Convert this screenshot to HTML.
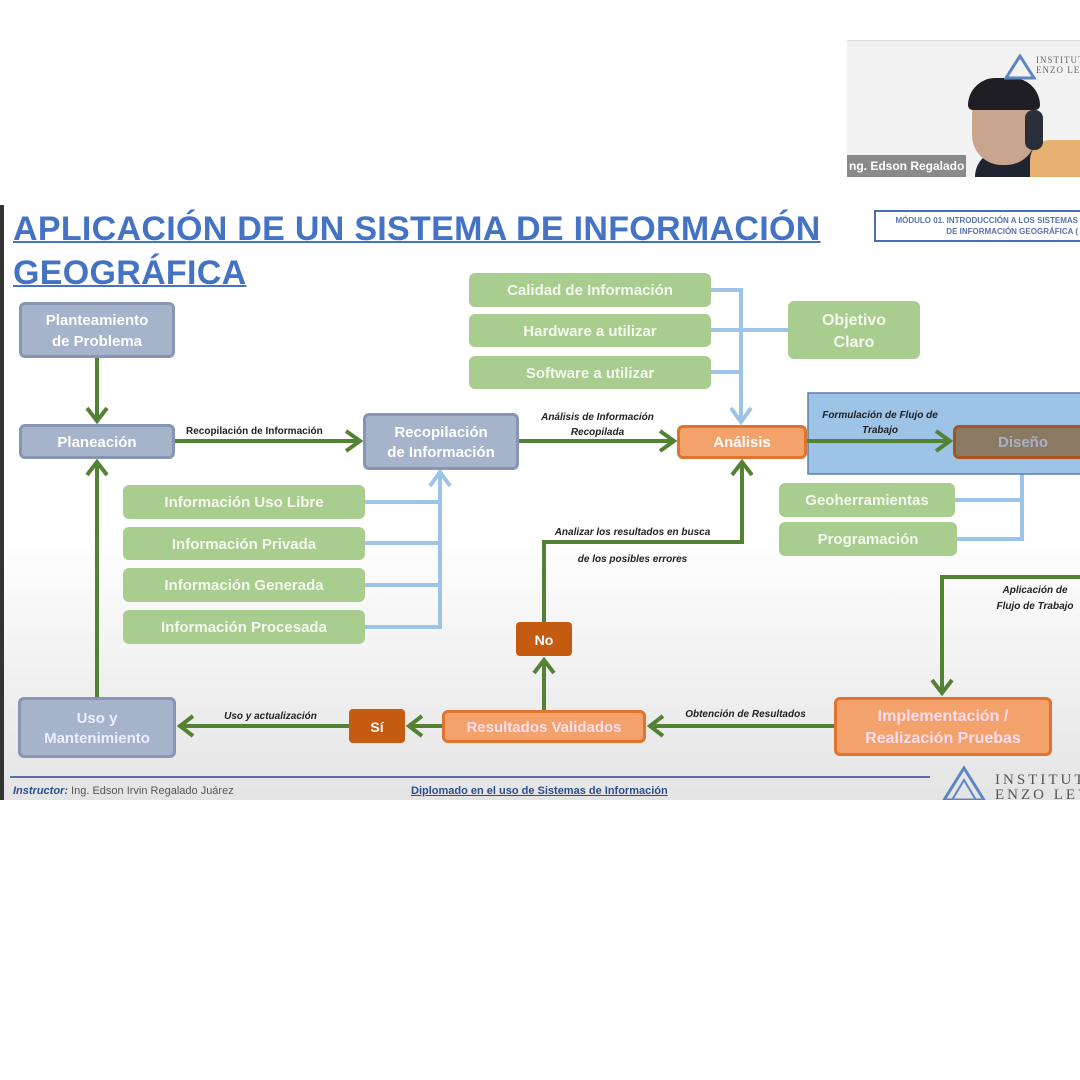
<!DOCTYPE html>
<html><head><meta charset="utf-8"><style>
*{margin:0;padding:0;box-sizing:border-box}
body{width:1080px;height:1080px;background:#fff;position:relative;overflow:hidden;font-family:"Liberation Sans",sans-serif}
.slide{position:absolute;left:0;top:205px;width:1080px;height:595px;background:linear-gradient(#fff 0%,#fff 55%,#e4e4e4 100%)}
.b{position:absolute;display:flex;align-items:center;justify-content:center;text-align:center;font-weight:bold;color:#fff;border-radius:6px;line-height:1.35;padding-top:3px}
.gray{background:#a5b3cb;border:3px solid #8796b4;font-size:15px}
.green{background:#a9cd8e;font-size:15px;color:#f4f8ef}
.org{background:#f4a26c;border:3px solid #de7430;font-size:15px}
.dk{background:#c55a11;font-size:14px;border-radius:4px}
.lbl{position:absolute;font-size:10px;font-weight:bold;font-style:italic;color:#222;text-align:center;line-height:1.5}
</style></head><body>
<!-- webcam -->
<div style="position:absolute;left:847px;top:40px;width:233px;height:137px;background:#f2f2f2;border-top:1px solid #ddd"></div>
<div style="position:absolute;left:975px;top:150px;width:105px;height:27px;background:#1f2530;border-radius:30px 30px 0 0"></div>
<div style="position:absolute;left:1030px;top:140px;width:50px;height:37px;background:#e8b070;border-radius:20px 0 0 0"></div>
<div style="position:absolute;left:972px;top:85px;width:64px;height:80px;background:#caa58e;border-radius:30px"></div>
<div style="position:absolute;left:968px;top:78px;width:72px;height:32px;background:#1e1e24;border-radius:36px 36px 6px 6px"></div>
<div style="position:absolute;left:1025px;top:110px;width:18px;height:40px;background:#2a2e38;border-radius:8px"></div>
<svg style="position:absolute;left:1004px;top:54px" width="32" height="26"><polygon points="16,2 30,24 2,24" fill="none" stroke="#5d86c0" stroke-width="3"/></svg>
<div style="position:absolute;left:1036px;top:56px;font-family:'Liberation Serif',serif;font-size:9px;color:#666;letter-spacing:1px;line-height:1.1">INSTITUTO<br>ENZO LEVI</div>
<div style="position:absolute;left:847px;top:155px;width:119px;height:22px;background:#8a8a8a;color:#fff;font-size:12px;font-weight:bold;line-height:22px;padding-left:2px">ng. Edson Regalado</div>

<div class="slide"></div>
<div style="position:absolute;left:0;top:205px;width:4px;height:595px;background:#333"></div>
<div style="position:absolute;left:13px;top:207px;font-size:34px;font-weight:bold;color:#4472c4;line-height:44px;text-decoration:underline;text-decoration-thickness:2px;white-space:nowrap;letter-spacing:0.3px">APLICACIÓN DE UN SISTEMA DE INFORMACIÓN<br>GEOGRÁFICA</div>
<div style="position:absolute;left:874px;top:210px;width:220px;height:32px;border:2px solid #4a6fb8;font-size:8px;font-weight:bold;color:#5a70b0;text-align:right;padding:3px 14px 0 0;line-height:11px;white-space:nowrap">MÓDULO 01. INTRODUCCIÓN A LOS SISTEMAS<br>DE INFORMACIÓN GEOGRÁFICA (</div>

<svg style="position:absolute;left:0;top:0" width="1080" height="1080">
<g fill="none" stroke="#9dc3e6" stroke-width="4">
<path d="M711 290H741V420M711 330H788M711 372H741"/>
<path d="M365 502H440V475M365 543H440M365 585H440M365 627H440V502"/>
<path d="M955 500H1022V463M955 539H1022V500"/>
</g>
<g fill="none" stroke="#9dc3e6" stroke-width="4"><path d="M731 408L741 422L751 408M430 486L440 472L450 486"/></g>
<path d="M1012 474L1022 460L1032 474" fill="none" stroke="#6a9ad8" stroke-width="4"/>
<rect x="808" y="393" width="280" height="81" fill="#9dc3e6" stroke="#5c7ea8" stroke-width="1.5"/>
<g fill="none" stroke="#548235" stroke-width="4">
<path d="M97 357V420M87 408L97 421L107 408"/>
<path d="M175 441H358M346 431L360 441L346 451"/>
<path d="M519 441H672M660 431L674 441L660 451"/>
<path d="M807 441H948M936 431L950 441L936 451"/>
<path d="M544 622V542H742V462M732 475L742 462L752 475"/>
<path d="M1080 577H942V692M932 680L942 693L952 680"/>
<path d="M834 726H651M663 716L650 726L663 736"/>
<path d="M544 710V660M534 673L544 660L554 673"/>
<path d="M442 726H410M422 716L409 726L422 736"/>
<path d="M349 726H181M193 716L180 726L193 736"/>
<path d="M97 697V462M87 475L97 462L107 475"/>
</g>
<line x1="10" y1="777" x2="930" y2="777" stroke="#5a6fa8" stroke-width="2"/>
<polygon points="964,768 984,800 944,800" fill="none" stroke="#5d86c0" stroke-width="3"/>
<polygon points="964,780 976,800 952,800" fill="none" stroke="#5d86c0" stroke-width="2"/>
</svg>

<div class="b gray" style="left:19px;top:302px;width:156px;height:56px">Planteamiento<br>de Problema</div>
<div class="b gray" style="left:19px;top:424px;width:156px;height:35px">Planeación</div>
<div class="b gray" style="left:363px;top:413px;width:156px;height:57px">Recopilación<br>de Información</div>
<div class="b gray" style="left:18px;top:697px;width:158px;height:61px;color:#eef">Uso y<br>Mantenimiento</div>

<div class="b green" style="left:469px;top:273px;width:242px;height:34px">Calidad de Información</div>
<div class="b green" style="left:469px;top:314px;width:242px;height:33px">Hardware a utilizar</div>
<div class="b green" style="left:469px;top:356px;width:242px;height:33px">Software a utilizar</div>
<div class="b green" style="left:788px;top:301px;width:132px;height:58px;font-size:16px">Objetivo<br>Claro</div>
<div class="b green" style="left:123px;top:485px;width:242px;height:34px">Información Uso Libre</div>
<div class="b green" style="left:123px;top:527px;width:242px;height:33px">Información Privada</div>
<div class="b green" style="left:123px;top:568px;width:242px;height:34px">Información Generada</div>
<div class="b green" style="left:123px;top:610px;width:242px;height:34px">Información Procesada</div>
<div class="b green" style="left:779px;top:483px;width:176px;height:34px">Geoherramientas</div>
<div class="b green" style="left:779px;top:522px;width:178px;height:34px">Programación</div>

<div class="b org" style="left:677px;top:425px;width:130px;height:34px">Análisis</div>
<div class="b" style="left:953px;top:425px;width:140px;height:34px;background:#8b7a63;border:3px solid #a9531e;color:#a8b0c8;font-size:15px">Diseño</div>
<div class="b org" style="left:442px;top:710px;width:204px;height:33px;color:#fde">Resultados Validados</div>
<div class="b org" style="left:834px;top:697px;width:218px;height:59px;font-size:16px;color:#fde">Implementación /<br>Realización Pruebas</div>
<div class="b dk" style="left:516px;top:622px;width:56px;height:34px">No</div>
<div class="b dk" style="left:349px;top:709px;width:56px;height:34px">Sí</div>

<div class="lbl" style="left:186px;top:424px;font-style:normal">Recopilación de Información</div>
<div class="lbl" style="left:525px;top:410px;width:145px">Análisis de Información<br>Recopilada</div>
<div class="lbl" style="left:810px;top:408px;width:140px">Formulación de Flujo de<br>Trabajo</div>
<div class="lbl" style="left:530px;top:519px;width:205px;line-height:27px">Analizar los resultados en busca<br>de los posibles errores</div>
<div class="lbl" style="left:985px;top:583px;width:100px;line-height:16px">Aplicación de<br>Flujo de Trabajo</div>
<div class="lbl" style="left:668px;top:707px;width:155px">Obtención de Resultados</div>
<div class="lbl" style="left:208px;top:709px;width:125px">Uso y actualización</div>

<div style="position:absolute;left:13px;top:785px;font-size:11px;color:#555"><b style="font-style:italic;color:#2e4d8a">Instructor:</b> Ing. Edson Irvin Regalado Juárez</div>
<div style="position:absolute;left:411px;top:785px;font-size:11px;font-weight:bold;color:#2e4d8a;text-decoration:underline">Diplomado en el uso de Sistemas de Información</div>
<div style="position:absolute;left:995px;top:773px;font-family:'Liberation Serif',serif;font-size:15px;color:#555;letter-spacing:3px;line-height:15px">INSTITUTO<br>ENZO LEVI</div>
<div style="position:absolute;left:0;top:800px;width:1080px;height:280px;background:#fff"></div>
</body></html>
